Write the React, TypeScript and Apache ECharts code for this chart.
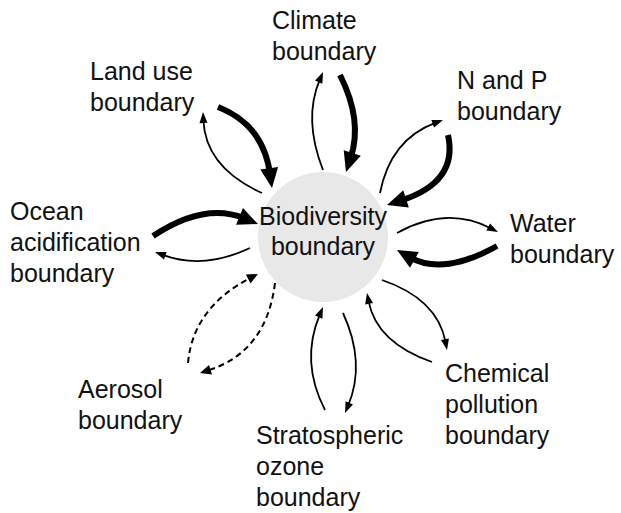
import React, { useEffect, useRef } from "react";
import * as echarts from "echarts";

// ---- Content (data) ----
const BOUNDARIES = [
  "Climate",
  "Land use",
  "N and P",
  "Ocean acidification",
  "Water",
  "Aerosol",
  "Chemical pollution",
  "Stratospheric ozone",
];
const LABEL_LINES: string[][] = [
  ["Climate", "boundary"],
  ["Land use", "boundary"],
  ["N and P", "boundary"],
  ["Ocean", "acidification", "boundary"],
  ["Water", "boundary"],
  ["Aerosol", "boundary"],
  ["Chemical", "pollution", "boundary"],
  ["Stratospheric", "ozone", "boundary"],
];
const CENTER_LINES = ["Biodiversity", "boundary"];
// influence of each boundary on biodiversity (arrow into the centre)
const INFLUENCE_IN = ["strong", "strong", "strong", "strong", "strong", "uncertain", "weak", "weak"];
// influence of biodiversity on each boundary (arrow out of the centre)
const INFLUENCE_OUT = ["weak", "weak", "weak", "weak", "weak", "uncertain", "weak", "weak"];

// ---- Layout (positions only) ----
const CENTER = { x: 323, y: 237, r: 65 };
const LINE_H = 31;
// [left x, first baseline]
const LABEL_POS: number[][] = [
  [272, 29],
  [90, 80],
  [457, 89],
  [10, 220],
  [510, 232],
  [78, 398],
  [445, 382],
  [256, 444],
];
const CENTER_BASELINE = 225;
// [start, point on curve at midpoint, tip]
const IN_PATHS: number[][][] = [
  [[340, 75], [353, 122], [346, 172]],
  [[218, 107], [254, 136], [272, 188]],
  [[448, 135], [438, 176], [387, 205]],
  [[153, 236], [205, 216], [258, 224]],
  [[497, 246], [445, 262], [397, 250]],
  [[188, 363], [208, 313], [258, 274]],
  [[432, 362], [388, 335], [367, 293]],
  [[325, 410], [312, 360], [323, 307]],
];
const OUT_PATHS: number[][][] = [
  [[323, 170], [313, 120], [323, 72]],
  [[262, 193], [219, 160], [203, 112]],
  [[380, 193], [401, 148], [443, 120]],
  [[250, 248], [203, 260], [155, 252]],
  [[397, 233], [447, 219], [498, 232]],
  [[275, 283], [252, 340], [200, 373]],
  [[382, 280], [426, 307], [447, 350]],
  [[343, 313], [355, 363], [345, 413]],
];

const STYLE: Record<string, { w: number; hl: number; hw: number; dash?: number[] }> = {
  strong: { w: 6, hl: 20, hw: 18 },
  weak: { w: 1.8, hl: 11, hw: 8 },
  uncertain: { w: 2, hl: 11, hw: 10, dash: [6, 4] },
};

const FONT = "'Liberation Sans', Arial, Helvetica, sans-serif";

function arrow(path: number[][], kind: string): any[] {
  const [p0, m, tip] = path;
  const s = STYLE[kind];
  const c = [2 * m[0] - (p0[0] + tip[0]) / 2, 2 * m[1] - (p0[1] + tip[1]) / 2];
  const dx = tip[0] - c[0];
  const dy = tip[1] - c[1];
  const len = Math.hypot(dx, dy) || 1;
  const ux = dx / len;
  const uy = dy / len;
  const nx = -uy;
  const ny = ux;
  const bx = tip[0] - ux * s.hl;
  const by = tip[1] - uy * s.hl;
  const ex = tip[0] - ux * s.hl * 0.75;
  const ey = tip[1] - uy * s.hl * 0.75;
  return [
    {
      type: "bezierCurve",
      shape: { x1: p0[0], y1: p0[1], x2: ex, y2: ey, cpx1: c[0], cpy1: c[1] },
      style: {
        stroke: "#000",
        fill: null,
        lineWidth: s.w,
        lineDash: s.dash,
        lineCap: "butt",
      },
      silent: true,
    },
    {
      type: "polygon",
      shape: {
        points: [
          [tip[0], tip[1]],
          [bx + (nx * s.hw) / 2, by + (ny * s.hw) / 2],
          [bx - (nx * s.hw) / 2, by - (ny * s.hw) / 2],
        ],
      },
      style: { fill: "#000" },
      silent: true,
    },
  ];
}

function textEl(text: string, x: number, baseline: number, align: string) {
  return {
    type: "text",
    x,
    y: baseline - 9,
    style: {
      text,
      fill: "#111",
      font: `25px ${FONT}`,
      fontSize: 25,
      fontFamily: FONT,
      align,
      verticalAlign: "middle",
      textAlign: align,
      textVerticalAlign: "middle",
    },
    silent: true,
  };
}

export default function App() {
  const ref = useRef<HTMLDivElement>(null);
  useEffect(() => {
    if (!ref.current) return;
    const chart = echarts.init(ref.current, undefined, { renderer: "svg" });
    const elements: any[] = [];
    elements.push({
      type: "circle",
      shape: { cx: CENTER.x, cy: CENTER.y, r: CENTER.r },
      style: { fill: "#e8e8e8" },
      silent: true,
    });
    BOUNDARIES.forEach((_, i) => {
      elements.push(...arrow(OUT_PATHS[i], INFLUENCE_OUT[i]));
      elements.push(...arrow(IN_PATHS[i], INFLUENCE_IN[i]));
      LABEL_LINES[i].forEach((line, j) => {
        elements.push(textEl(line, LABEL_POS[i][0], LABEL_POS[i][1] + j * LINE_H, "left"));
      });
    });
    CENTER_LINES.forEach((line, j) => {
      elements.push(textEl(line, CENTER.x, CENTER_BASELINE + j * 30, "center"));
    });
    chart.setOption({
      animation: false,
      backgroundColor: "#ffffff",
      graphic: { elements },
    });
    return () => chart.dispose();
  }, []);
  return (
    <div
      ref={ref}
      style={{ position: "absolute", left: 0, top: 0, width: 621, height: 513 }}
    />
  );
}
